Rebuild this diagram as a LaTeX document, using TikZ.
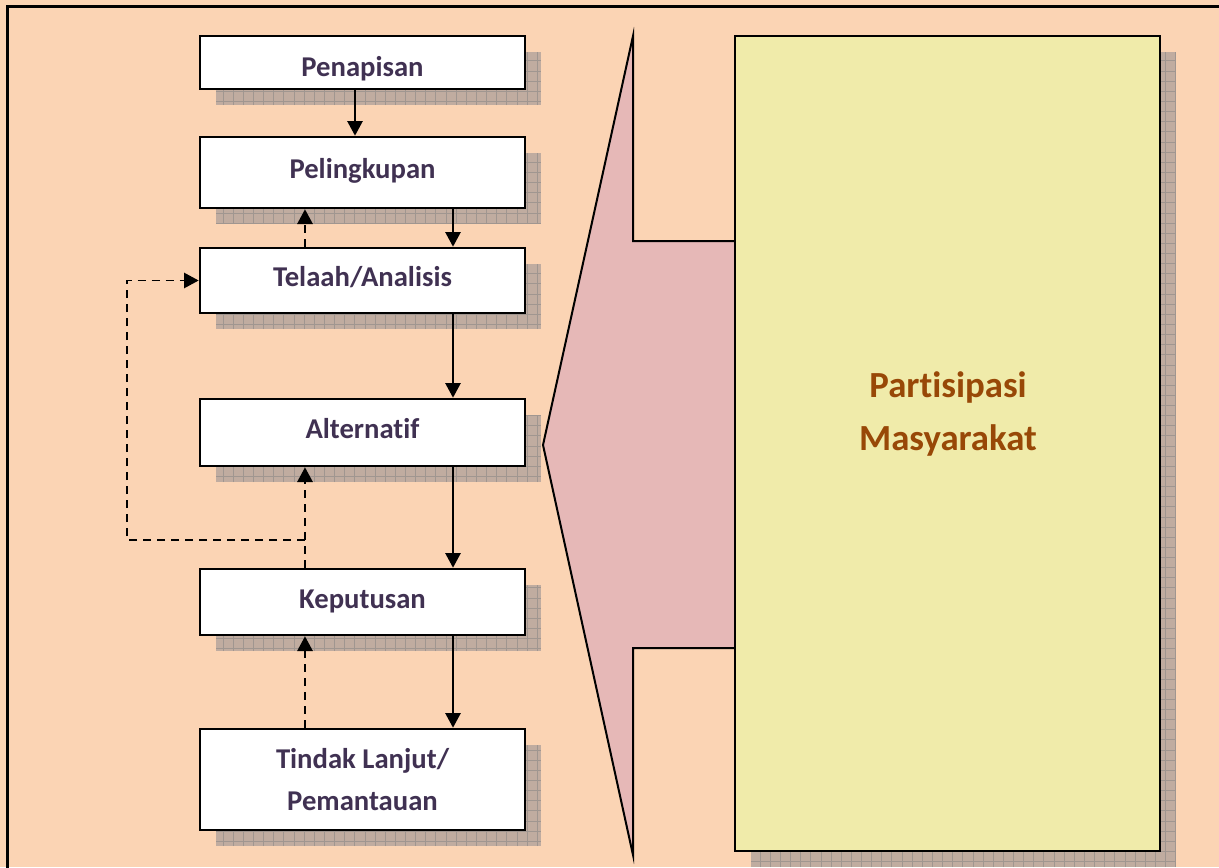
\documentclass[tikz,border=0pt]{standalone}
\usepackage{fontspec}
\setmainfont[Ligatures=NoCommon]{Carlito}
\usetikzlibrary{arrows.meta}
\definecolor{peach}{RGB}{251,212,180}
\definecolor{pinkarrow}{RGB}{230,184,183}
\definecolor{yellowbox}{RGB}{240,235,170}
\definecolor{shadowfill}{RGB}{192,172,160}
\definecolor{shadowline}{RGB}{160,150,144}
\definecolor{boxtext}{RGB}{64,49,82}
\definecolor{browntext}{RGB}{152,72,7}
\newcommand\gridshadow[4]{%
  \fill[shadowfill] (#1,#2) rectangle (#3,#4);
  \begin{scope}
    \clip (#1,#2) rectangle (#3,#4);
    \draw[shadowline, line width=0.45pt] (#1,#2) grid[step=7.6pt] (#3,#4);
  \end{scope}}
\begin{document}
\begin{tikzpicture}[x=0.75pt,y=-0.75pt,
  stepbox/.style={draw=black, fill=white, line width=2pt, inner sep=0pt,
    minimum width=243.75pt, text=boxtext,
    font=\fontsize{21.5}{31.5}\selectfont\bfseries},
  onebox/.style={stepbox, text height=15pt, text depth=5.4pt},
  arr/.style={line width=1.4pt, -{Triangle[length=11pt,width=11.5pt]}},
  darr/.style={arr, dash pattern=on 6pt off 4.5pt}]
\useasboundingbox (0,0) rectangle (1219,867);
\fill[peach] (0,0) rectangle (1219,867);
\draw[line width=2.25pt] (7,868) -- (7,7) -- (1220,7);
% shadows
\gridshadow{216}{52}{541}{105}
\gridshadow{216}{153}{541}{224}
\gridshadow{216}{264}{541}{329}
\gridshadow{216}{415}{541}{482}
\gridshadow{216}{585}{541}{651}
\gridshadow{216}{745}{541}{846}
\gridshadow{751}{52}{1176}{867}
% big arrow shape
\draw[fill=pinkarrow, line width=1.5pt, line join=miter]
  (633,36) -- (633,241) -- (735,241) -- (735,648) -- (633,648)
  -- (633,855) -- (543,445) -- cycle;
% boxes
\node[stepbox, text height=27pt, text depth=5.4pt, minimum height=39.75pt] (pen) at (362.5,62.5) {Penapisan};
\node[onebox, minimum height=53.25pt] (pel) at (362.5,172.5) {Pelingkupan};
\node[onebox, minimum height=48.75pt] (tel) at (362.5,280.5) {Telaah/Analisis};
\node[onebox, minimum height=50.25pt] (alt) at (362.5,432.5) {Alternatif};
\node[onebox, minimum height=49.5pt] (kep) at (362.5,602) {Keputusan};
\node[stepbox, minimum height=75.75pt, align=center] (tin) at (362.5,779.5) {Tindak Lanjut/\\Pemantauan};
\node[draw=black, fill=yellowbox, line width=2pt, inner sep=0pt,
  minimum width=318.75pt, minimum height=611.25pt] (pmbox) at (947.5,443.5) {};
\node[text=browntext, align=center, font=\fontsize{27.6}{39.75}\selectfont\bfseries]
  (pmtext) at (948,414) {Partisipasi\\Masyarakat};
% connectors
\coordinate (c355) at (355,0);
\coordinate (c453) at (453,0);
\coordinate (c305) at (305,0);
\coordinate (c127) at (127,0);
\coordinate (j) at (305,540);
\draw[arr] (c355 |- pen.south) -- (c355 |- pel.north);
\draw[arr] (c453 |- pel.south) -- (c453 |- tel.north);
\draw[darr] (c305 |- tel.north) -- (c305 |- pel.south);
\draw[arr] (c453 |- tel.south) -- (c453 |- alt.north);
\draw[arr] (c453 |- alt.south) -- (c453 |- kep.north);
\draw[darr] (c305 |- kep.north) -- (c305 |- alt.south);
\draw[darr] (j) -| (c127 |- tel.west) -- (tel.west);
\draw[arr] (c453 |- kep.south) -- (c453 |- tin.north);
\draw[darr] (c305 |- tin.north) -- (c305 |- kep.south);
\end{tikzpicture}
\end{document}
